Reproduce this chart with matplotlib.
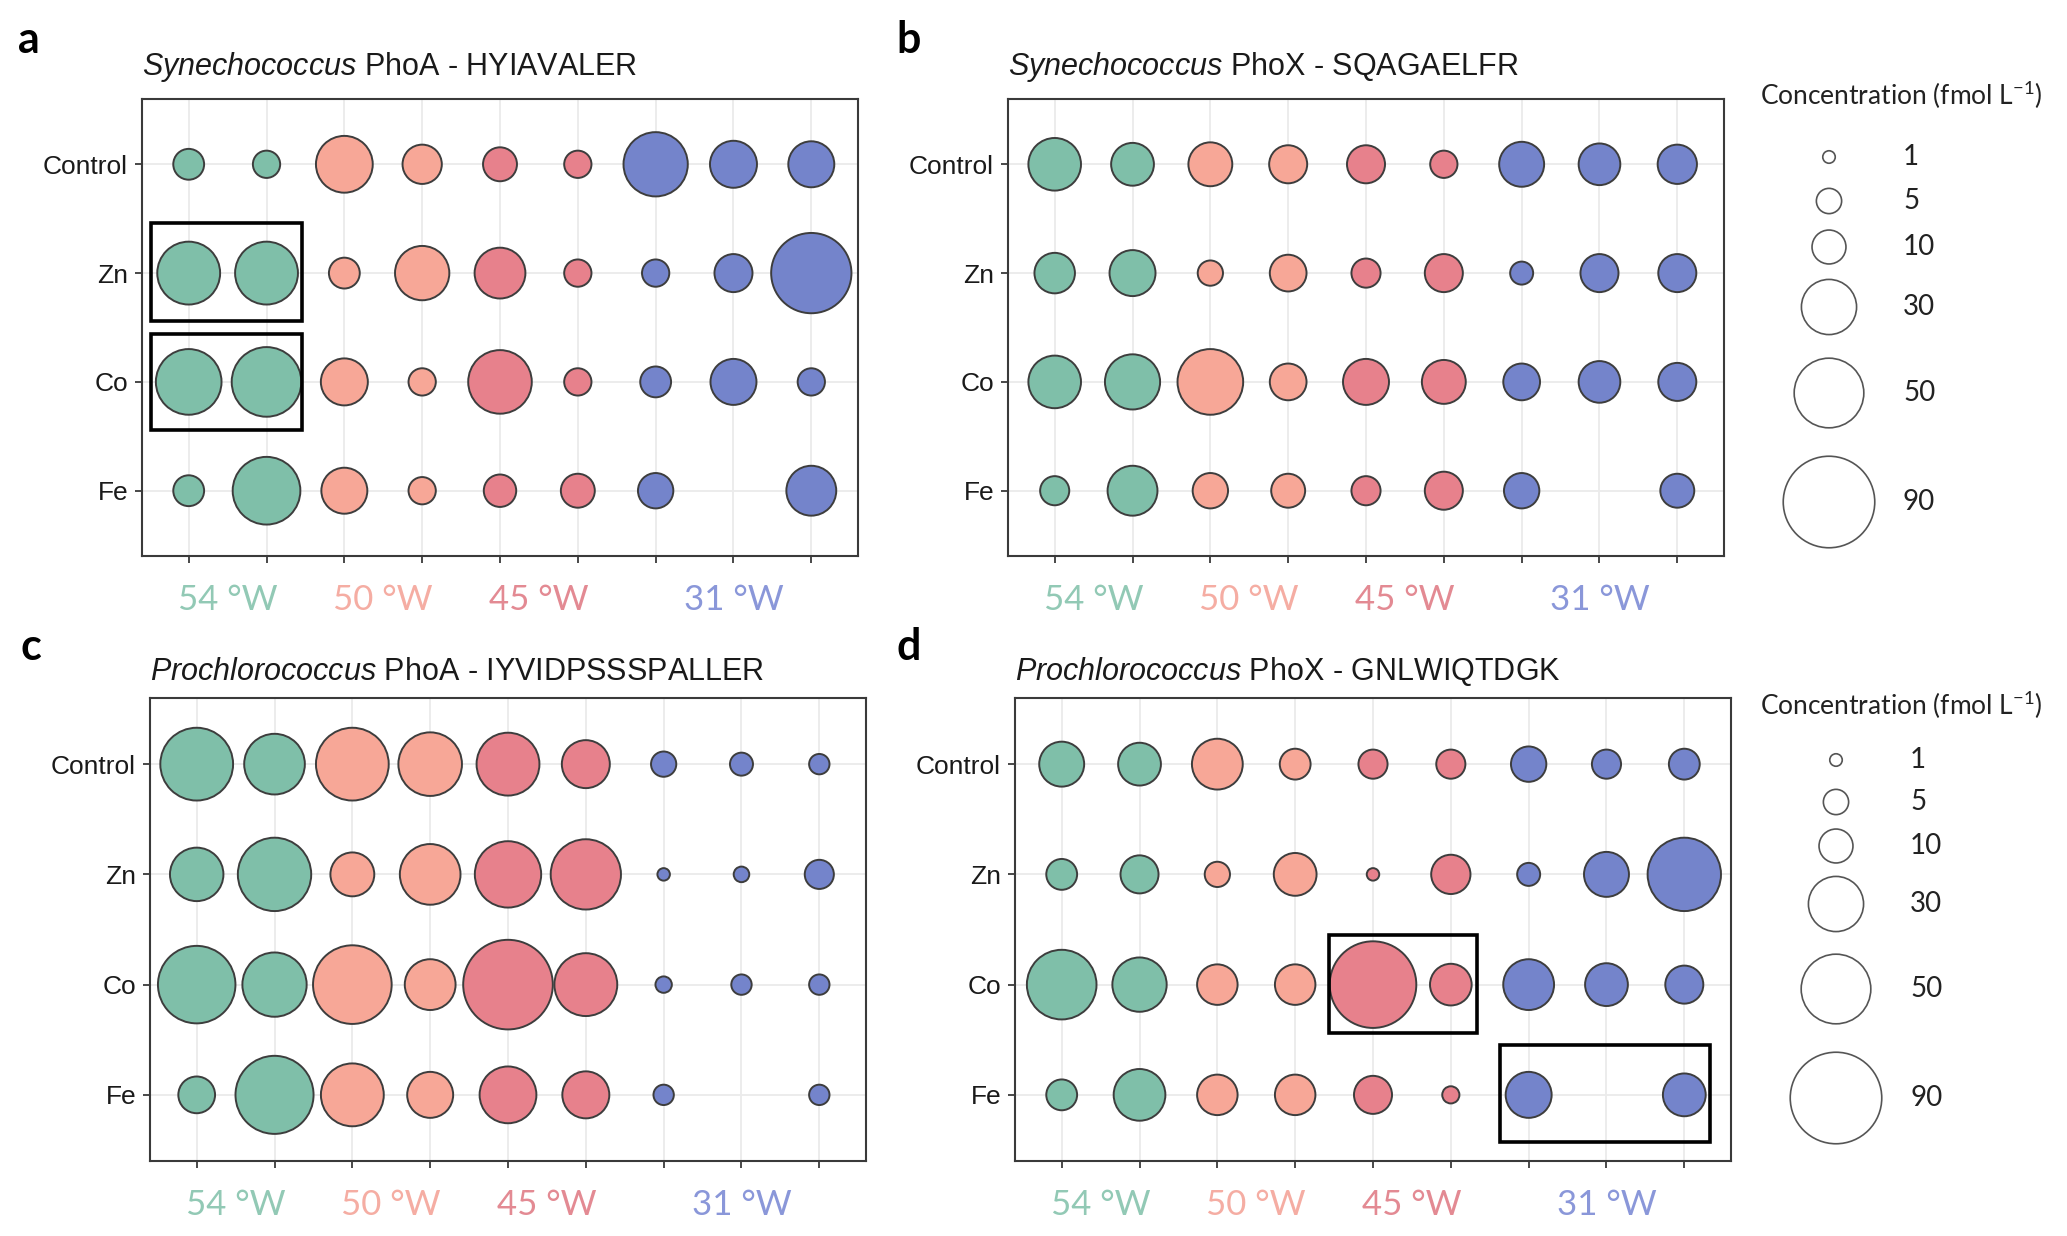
import numpy as np
import matplotlib
matplotlib.use("Agg")
import matplotlib.pyplot as plt
from matplotlib.patches import Rectangle

# ---------------- data ----------------
treatments = ["Control", "Zn", "Co", "Fe"]
stations = ["54 °W", "50 °W", "45 °W", "31 °W"]
station_cols = [[1, 2], [3, 4], [5, 6], [7, 8, 9]]
station_fill = ["#7fbfa9", "#f7a797", "#e7818c", "#7484cb"]
station_text = ["#92c9b5", "#f5ada3", "#e38a93", "#8a97d9"]
nan = np.nan

# concentrations (fmol L-1), rows = Control, Zn, Co, Fe ; columns = 9 stations/depths
syn_phoa = [
    [8, 6, 32, 14, 10, 6, 42, 21, 20],
    [40, 40, 8, 29, 25, 6, 6, 13, 68],
    [44, 50, 21, 6, 41, 6, 8, 20, 6],
    [8, 47, 20, 6, 9, 10, 11, nan, 24],
]
syn_phox = [
    [27, 17, 18, 13, 13, 6, 19, 16, 14],
    [15, 20, 5, 12, 7, 13, 4, 13, 13],
    [27, 30, 44, 12, 20, 18, 12, 16, 13],
    [7, 24, 11, 10, 7, 13, 11, nan, 10],
]
pro_phoa = [
    [55, 37, 55, 41, 40, 22, 5, 4, 3],
    [28, 56, 18, 37, 45, 51, 1, 1.6, 7],
    [63, 42, 65, 25, 86, 40, 1.8, 3, 3],
    [12, 64, 40, 20, 32, 21, 3, nan, 3],
]
pro_phox = [
    [19, 17, 25, 8, 7, 7, 11, 7, 8],
    [8, 13, 5, 17, 1, 14, 4, 19, 56],
    [50, 29, 15, 15, 80, 16, 25, 17, 13],
    [8, 26, 15, 15, 13, 2, 20, nan, 17],
]
legend_values = [1, 5, 10, 30, 50, 90]

# ---------------- figure ----------------
W, H = 2067, 1236
DPI = 100
fig = plt.figure(figsize=(W / DPI, H / DPI), dpi=DPI)
plt.rcParams["mathtext.fontset"] = "custom"
plt.rcParams["mathtext.it"] = "Liberation Sans:italic"
plt.rcParams["mathtext.rm"] = "Liberation Sans"

PT = 72.0 / DPI


def size_of(v):
    v = np.asarray(v, dtype=float)
    d_px = 7.6 + 9.03 * np.sqrt(np.clip(v - 0.5, 0.05, None)) - 1.5
    return (d_px * PT) ** 2


def px_axes(l, t, r, b):
    return fig.add_axes([l / W, 1 - b / H, (r - l) / W, (b - t) / H])


panels = [
    dict(letter="a", genus="Synechococcus", rest=" PhoA - HYIAVALER", data=syn_phoa,
         ext=(142, 99, 858, 556), lx=18, ly=53, ty=74.5,
         boxes=[(0.52, 2.56, 2.45, 3.46), (0.52, 1.56, 2.45, 2.44)]),
    dict(letter="b", genus="Synechococcus", rest=" PhoX - SQAGAELFR", data=syn_phox,
         ext=(1008, 99, 1724, 556), lx=896, ly=53, ty=74.5, boxes=[]),
    dict(letter="c", genus="Prochlorococcus", rest=" PhoA - IYVIDPSSSPALLER", data=pro_phoa,
         ext=(150, 698, 866, 1161), lx=20, ly=660, ty=680, boxes=[]),
    dict(letter="d", genus="Prochlorococcus", rest=" PhoX - GNLWIQTDGK", data=pro_phox,
         ext=(1015, 698, 1731, 1161), lx=896, ly=660, ty=680,
         boxes=[(4.44, 1.56, 6.34, 2.45), (6.63, 0.57, 9.33, 1.45)]),
]

ncol = 9
col_color = {}
for grp, cols in enumerate(station_cols):
    for c in cols:
        col_color[c] = station_fill[grp]

for p in panels:
    l, t, r, b = p["ext"]
    ax = px_axes(l, t, r, b)
    ax.set_xlim(0.4, ncol + 0.6)
    ax.set_ylim(0.4, len(treatments) + 0.6)
    ax.set_axisbelow(True)
    ax.grid(True, color="#ebebeb", lw=1.3)
    for sp in ax.spines.values():
        sp.set_color("#3a3a3a")
        sp.set_linewidth(1.5)
    ax.set_xticks(range(1, ncol + 1))
    ax.set_xticklabels([])
    ypos = [len(treatments) - i for i in range(len(treatments))]
    ax.set_yticks(ypos)
    ax.set_yticklabels(treatments, fontsize=19, family="Liberation Sans", color="#1a1a1a")
    ax.tick_params(axis="both", length=5, width=1.3, color="#3a3a3a", pad=5)

    xs, ys, vs, cs = [], [], [], []
    for i, row in enumerate(p["data"]):
        for j, v in enumerate(row):
            if np.isnan(v):
                continue
            xs.append(j + 1)
            ys.append(ypos[i])
            vs.append(v)
            cs.append(col_color[j + 1])
    ax.scatter(xs, ys, s=size_of(vs), c=cs, edgecolors="#3d3d3d", linewidths=1.4,
               zorder=3, clip_on=False)

    for (x0, y0, x1, y1) in p["boxes"]:
        ax.add_patch(Rectangle((x0, y0), x1 - x0, y1 - y0, fill=False, ec="black",
                               lw=2.6, zorder=4))

    for grp, cols in enumerate(station_cols):
        ax.annotate(stations[grp], xy=(np.mean(cols), 0), xycoords=("data", "axes fraction"),
                    xytext=(0, -44 * PT), textcoords="offset points", ha="center",
                    va="center", fontsize=25, family="Lato", color=station_text[grp])

    fig.text(l / W, 1 - p["ty"] / H,
             r"$\mathit{" + p["genus"] + "}$" + p["rest"], ha="left", va="baseline",
             fontsize=22, family="Liberation Sans", color="#1a1a1a")
    fig.text(p["lx"] / W, 1 - p["ly"] / H, p["letter"], ha="left", va="baseline",
             fontsize=31, family="Lato", fontweight="bold", color="black")

# ---------------- size legends ----------------
ov = fig.add_axes([0, 0, 1, 1])
ov.set_xlim(0, W)
ov.set_ylim(H, 0)
ov.axis("off")
legends = [
    dict(tx=1760, ty=95, cx=1829, lx=1903, ys=[157, 201, 247, 307, 393, 502]),
    dict(tx=1760, ty=705, cx=1836, lx=1910, ys=[760, 802, 846, 904, 989, 1098]),
]
for lg in legends:
    ov.text(lg["tx"], lg["ty"], r"Concentration (fmol L$^{\mathregular{-1}}$)", ha="left",
            va="center", fontsize=19, family="Lato", color="#222222")
    ov.scatter([lg["cx"]] * len(legend_values), lg["ys"], s=size_of(legend_values),
               facecolors="white", edgecolors="#555555", linewidths=1.2, clip_on=False)
    for v, y in zip(legend_values, lg["ys"]):
        ov.text(lg["lx"], y, str(v), ha="left", va="center", fontsize=20,
                family="Lato", color="#222222")

fig.savefig("out.png", dpi=DPI)
